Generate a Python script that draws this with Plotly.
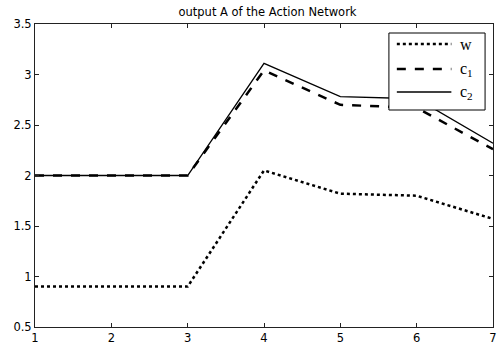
import plotly.graph_objects as go

steps = [1, 2, 3, 4, 5, 6, 7]
w = [0.90, 0.90, 0.90, 2.05, 1.82, 1.80, 1.57]
c1 = [2.00, 2.00, 2.00, 3.04, 2.70, 2.67, 2.26]
c2 = [2.00, 2.00, 2.00, 3.11, 2.78, 2.76, 2.32]
series_names = ["w", "c<sub>1</sub>", "c<sub>2</sub>"]
x_ticks = [1, 2, 3, 4, 5, 6, 7]
y_ticks = [0.5, 1, 1.5, 2, 2.5, 3, 3.5]
y_tick_text = ["0.5", "1", "1.5", "2", "2.5", "3", "3.5"]

W, H = 500, 348
ML, MR, MT, MB = 35, 3, 24, 21
PW, PH = W - ML - MR, H - MT - MB


def px_x(px):
    return (px - ML) / PW


def px_y(py):
    return 1 - (py - MT) / PH


styles = [dict(color="black", width=2.5, dash="dot"),
          dict(color="black", width=2.5, dash="dash"),
          dict(color="black", width=1.3)]

fig = go.Figure()
for name, vals, st in zip(series_names, [w, c1, c2], styles):
    fig.add_trace(go.Scatter(x=steps, y=vals, mode="lines", name=name, line=st,
                             showlegend=False))

# custom legend box (MATLAB style)
shapes = [dict(type="rect", xref="paper", yref="paper", layer="above",
               x0=px_x(392), x1=px_x(489), y0=px_y(110), y1=px_y(33),
               line=dict(color="black", width=1), fillcolor="white")]
annotations = []
legend_rows = [44, 69, 92]
for name, st, py in zip(series_names, styles, legend_rows):
    shapes.append(dict(type="line", xref="paper", yref="paper", layer="above",
                       x0=px_x(400), x1=px_x(455), y0=px_y(py), y1=px_y(py),
                       line=st))
    annotations.append(dict(text=name, xref="paper", yref="paper", x=px_x(462), y=px_y(py),
                            xanchor="left", yanchor="middle", showarrow=False,
                            font=dict(family="Liberation Serif, Times New Roman", size=16, color="black")))

axis_common = dict(showline=True, linecolor="#222222", linewidth=1, mirror="ticks",
                   ticks="inside", ticklen=4, tickcolor="#222222", showgrid=False,
                   zeroline=False, ticklabeloverflow="allow",
                   tickfont=dict(family="DejaVu Sans, Arial", size=11.5, color="black"))

fig.update_layout(
    width=W, height=H,
    margin=dict(l=ML, r=MR, t=MT, b=MB),
    paper_bgcolor="white", plot_bgcolor="white",
    title=dict(text="output A of the Action Network", x=0.535, xanchor="center", y=0.965, yanchor="middle",
               font=dict(family="DejaVu Sans, Arial", size=11.5, color="black")),
    xaxis=dict(range=[1, 7], tickvals=x_ticks, **axis_common),
    yaxis=dict(range=[0.5, 3.5], tickvals=y_ticks, ticktext=y_tick_text, **axis_common),
    shapes=shapes,
    annotations=annotations,
    showlegend=False,
)

fig.write_html("out.html", config={"displayModeBar": False},
               post_script="document.body.style.margin='0';document.body.style.overflow='hidden';")
